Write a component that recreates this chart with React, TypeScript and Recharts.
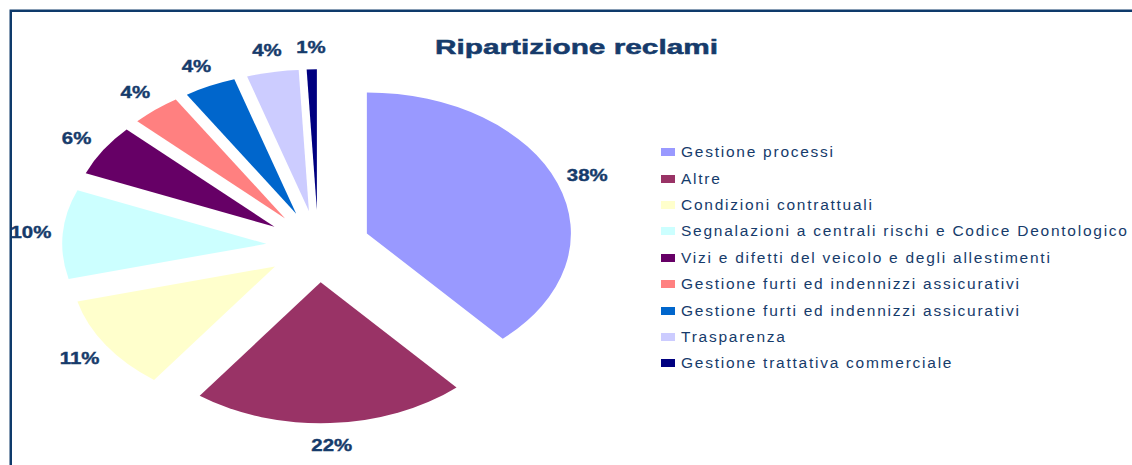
import React from 'react';
import { PieChart, Pie, Legend } from 'recharts';

const categories = [
  'Gestione processi',
  'Altre',
  'Condizioni contrattuali',
  'Segnalazioni a centrali rischi e Codice Deontologico',
  'Vizi e difetti del veicolo e degli allestimenti',
  'Gestione furti ed indennizzi assicurativi',
  'Gestione furti ed indennizzi assicurativi',
  'Trasparenza',
  'Gestione trattativa commerciale',
];
const shares = [38.4, 21.7, 10.9, 10.2, 5.9, 3.9, 4.1, 4.1, 0.8];
const sliceColors = ['#9999FF', '#993366', '#FFFFCC', '#CCFFFF', '#660066', '#FF8080', '#0066CC', '#CCCCFF', '#000080'];
const chartTitle = 'Ripartizione reclami';

const data = categories.map((name, i) => ({ name, value: shares[i], fill: sliceColors[i] }));

const W = 1132;
const H = 465;
const STRETCH = 1.447;
const EXPLODE = 36;
const LABEL_R = 199;
const TEXT = '#163b6b';
const FONT = "'Liberation Sans', Arial, sans-serif";
const RAD = Math.PI / 180;

function ExplodedSector(props: any) {
  const { cx, cy, outerRadius, startAngle, endAngle, fill } = props;
  const mid = props.midAngle ?? (startAngle + endAngle) / 2;
  const ox = cx + EXPLODE * STRETCH * Math.cos(mid * RAD);
  const oy = cy - EXPLODE * Math.sin(mid * RAD);
  const rx = outerRadius * STRETCH;
  const ry = outerRadius;
  const pt = (a: number) => [ox + rx * Math.cos(a * RAD), oy - ry * Math.sin(a * RAD)];
  const [x1, y1] = pt(startAngle);
  const [x2, y2] = pt(endAngle);
  const large = Math.abs(endAngle - startAngle) > 180 ? 1 : 0;
  const sweep = startAngle > endAngle ? 1 : 0;
  const d = `M${ox},${oy} L${x1},${y1} A${rx},${ry} 0 ${large} ${sweep} ${x2},${y2} Z`;
  return <path d={d} fill={fill} stroke="none" />;
}

function renderLabel(props: any) {
  const { cx, cy, midAngle, percent } = props;
  const x = cx + LABEL_R * STRETCH * Math.cos(midAngle * RAD);
  const y = cy - LABEL_R * Math.sin(midAngle * RAD);
  return (
    <text
      transform={`translate(${x},${y}) scale(1.2,1)`}
      x={0}
      y={0}
      textAnchor="middle"
      dominantBaseline="central"
      fill={TEXT}
      stroke={TEXT}
      strokeWidth={0.4}
      fontFamily={FONT}
      fontWeight="bold"
      fontSize={17}
    >
      {`${Math.round(percent * 100)}%`}
    </text>
  );
}

function LegendContent(props: any) {
  const payload = (props.payload ?? [])
    .slice()
    .sort((a: any, b: any) => sliceColors.indexOf(a.color) - sliceColors.indexOf(b.color));
  return (
    <div style={{ fontFamily: FONT, fontSize: 15.5, letterSpacing: 1.75, color: TEXT }}>
      {payload.map((p: any, i: number) => (
        <div key={i} style={{ display: 'flex', alignItems: 'center', height: 26.375, whiteSpace: 'nowrap' }}>
          <span style={{ display: 'inline-block', width: 14, height: 8, background: p.color ?? sliceColors[i], marginRight: 6, flex: 'none' }} />
          <span>{p.value}</span>
        </div>
      ))}
    </div>
  );
}

export default function App() {
  return (
    <div style={{ position: 'absolute', left: 0, top: 0, width: W, height: H, overflow: 'hidden', background: '#fff' }}>
      <PieChart width={W} height={H} margin={{ top: 0, right: 0, bottom: 0, left: 0 }}>
        <Pie
          data={data}
          dataKey="value"
          nameKey="name"
          cx={318.2}
          cy={246.3}
          outerRadius={141}
          startAngle={90}
          endAngle={-270}
          stroke="none"
          isAnimationActive={false}
          label={renderLabel}
          labelLine={false}
          shape={ExplodedSector}
          activeShape={ExplodedSector}
          inactiveShape={ExplodedSector}
        />
        <Legend
          layout="vertical"
          align="right"
          verticalAlign="top"
          itemSorter={null as any}
          content={LegendContent}
          wrapperStyle={{ position: 'absolute', left: 661, top: 139.1, width: 471 }}
        />
      </PieChart>
      <svg width={W} height={H} style={{ position: 'absolute', left: 0, top: 0, pointerEvents: 'none' }}>
        <rect x={10.75} y={10.75} width={1300} height={700} fill="none" stroke="#0e3a6b" strokeWidth={2.5} />
        <text
          x={435}
          y={54.3}
          textLength={283}
          lengthAdjust="spacingAndGlyphs"
          fill={TEXT}
          stroke={TEXT}
          strokeWidth={0.5}
          fontFamily={FONT}
          fontWeight="bold"
          fontSize={21}
        >
          {chartTitle}
        </text>
      </svg>
    </div>
  );
}
